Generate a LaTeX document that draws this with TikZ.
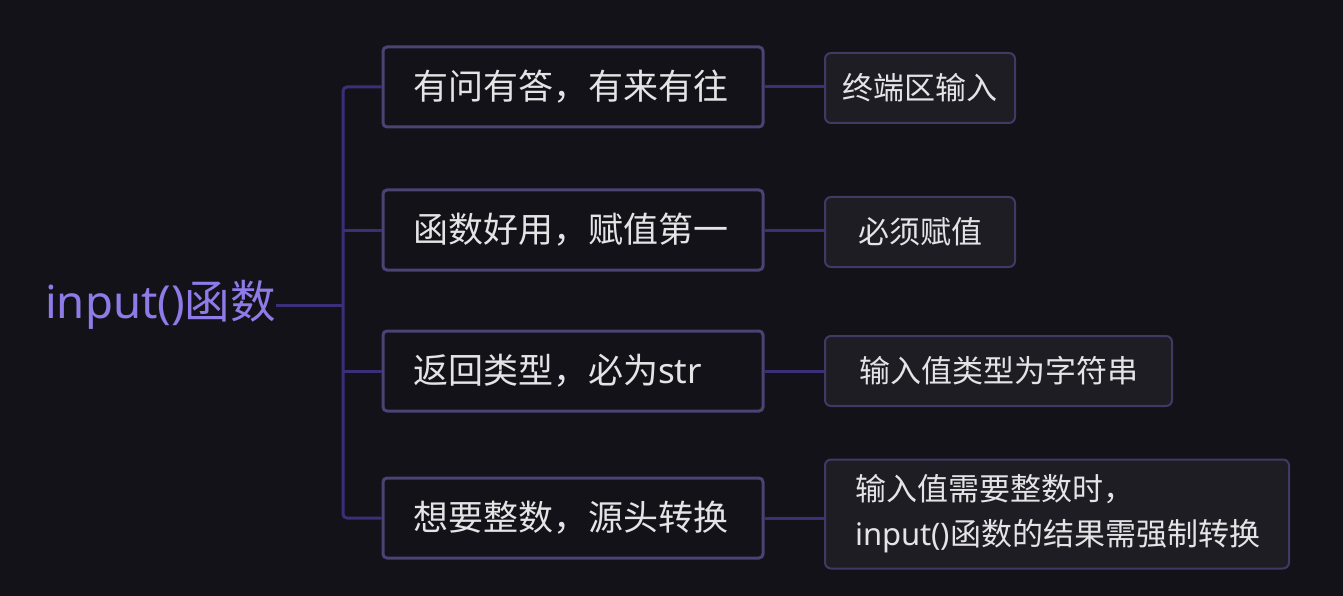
\documentclass[tikz,border=0pt]{standalone}
\usepackage{fontspec}
\setmainfont{Noto Sans CJK SC}
\newfontfamily\lat{Noto Sans}
\definecolor{bg}{HTML}{131218}
\definecolor{lonefill}{HTML}{131218}
\definecolor{loneborder}{HTML}{4A4374}
\definecolor{ltwofill}{HTML}{1E1D24}
\definecolor{ltwoborder}{HTML}{3F3A63}
\definecolor{connc}{HTML}{3A2F78}
\definecolor{rootc}{HTML}{8F7BE8}
\definecolor{txtc}{HTML}{E4E4E6}
\tikzset{
  rootnode/.style={inner sep=0pt, anchor=west, text=rootc, font=\fontsize{45.5}{52}\selectfont},
  lone/.style={draw=loneborder, fill=lonefill, line width=3pt, rounded corners=4pt,
     minimum height=80pt, text width=320pt, inner xsep=30pt, align=left,
     text=txtc, font=\fontsize{35}{40}\selectfont},
  ltwo/.style={draw=ltwoborder, fill=ltwofill, line width=2pt, rounded corners=6pt,
     inner xsep=0pt, align=center, text=txtc, font=\fontsize{31}{45}\selectfont},
  conn/.style={draw=connc, line width=3pt},
}
\begin{document}
\begin{tikzpicture}[x=1pt,y=-1pt]
\fill[bg] (0,0) rectangle (1343,596);
\useasboundingbox (0,0) rectangle (1343,596);
\node[rootnode] (root) at (45,305) {{\lat input()}函数};
\coordinate (t) at (343,305);
\node[lone] (a1) at (573,87) {有问有答，有来有往};
\node[lone] (a2) at (573,230) {函数好用，赋值第一};
\node[lone] (a3) at (573,371) {返回类型，必为{\lat str}};
\node[lone] (a4) at (573,518) {想要整数，源头转换};
\node[ltwo, minimum width=190pt, minimum height=70pt] (b1) at (920,88) {终端区输入};
\node[ltwo, minimum width=190pt, minimum height=70pt] (b2) at (920,232) {必须赋值};
\node[ltwo, minimum width=347pt, minimum height=70pt] (b3) at (998.5,371) {输入值类型为字符串};
\node[ltwo, minimum width=464pt, minimum height=109pt, text width=404pt, inner xsep=30pt, align=left] (b4) at (1057,514) {输入值需要整数时，\\{\lat input()}函数的结果需强制转换};
\draw[conn] (root.east) -- (t);
\draw[conn, rounded corners=4pt] (a1.west) -- (a1.west -| t) -- (a4.west -| t) -- (a4.west);
\draw[conn] (a2.west -| t) -- (a2.west);
\draw[conn] (a3.west -| t) -- (a3.west);
\draw[conn] (a1.east) -- (a1.east -| b1.west);
\draw[conn] (a2.east) -- (a2.east -| b2.west);
\draw[conn] (a3.east) -- (a3.east -| b3.west);
\draw[conn] (a4.east) -- (a4.east -| b4.west);
\end{tikzpicture}
\end{document}
